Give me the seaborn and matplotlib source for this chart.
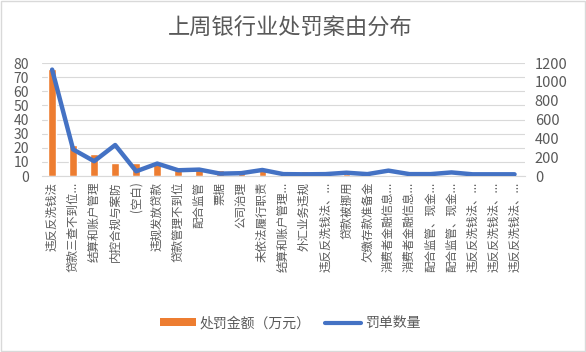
import matplotlib
matplotlib.use("Agg")
import matplotlib.pyplot as plt
import numpy as np
import pandas as pd
import seaborn as sns
from matplotlib.patches import Rectangle

# ---- data ----
CATEGORIES = [
    "违反反洗钱法", "贷款三查不到位...", "结算和账户管理", "内控合规与案防", "(空白)",
    "违规发放贷款", "贷款管理不到位", "配合监管", "票据", "公司治理",
    "未依法履行职责", "结算和账户管理...", "外汇业务违规", "违反反洗钱法、...",
    "贷款被挪用", "欠缴存款准备金", "消费者金融信息...", "消费者金融信息...",
    "配合监管、现金...", "配合监管、现金...", "违反反洗钱法、...",
    "违反反洗钱法、...", "违反反洗钱法、...",
]
FINE_AMOUNT = [76, 22, 15.5, 9.3, 9.3, 8.8, 4.5, 5.7, 4.5, 3.8,
               4.0, 3.5, 3.5, 2.0, 1.5, 1.2, 0.8, 0.6, 0.6, 1.0,
               0.5, 0.4, 0.3]
PENALTY_COUNT = [1130, 282, 157, 329, 50, 132, 61, 68, 25, 30,
                 64, 20, 18, 20, 35, 20, 57, 20, 20, 38,
                 18, 18, 18]

BAR_COLOR = "#ED7D31"
LINE_COLOR = "#4472C4"
TEXT_COLOR = "#595959"
GRID_COLOR = "#D9D9D9"

df = pd.DataFrame({
    "pos": np.arange(len(CATEGORIES)),
    "label": CATEGORIES,
    "amount": FINE_AMOUNT,
    "count": PENALTY_COUNT,
})

sns.set_style("white")
plt.rcParams["font.family"] = ["Noto Sans CJK SC", "DejaVu Sans"]

fig = plt.figure(figsize=(5.86, 3.52), dpi=100)
ax = fig.add_axes([0.071, 0.5, 0.825, 0.321])

sns.barplot(data=df, x="pos", y="amount", color=BAR_COLOR, width=0.36,
            saturation=1, ax=ax, zorder=2)
ax.set_ylim(0, 80)
ax.set_yticks(np.arange(0, 81, 10))
ax.yaxis.grid(True, color=GRID_COLOR, linewidth=0.8, zorder=0)
ax.set_axisbelow(True)
ax.set_xlim(-0.5, len(CATEGORIES) - 0.5)
ax.set_xticks(df["pos"])
ax.set_xticklabels(CATEGORIES, rotation=90, fontsize=8.3, color=TEXT_COLOR)
ax.tick_params(axis="y", labelsize=10, colors=TEXT_COLOR, length=0, pad=9)
ax.tick_params(axis="x", length=0, pad=4)
ax.set_xlabel("")
ax.set_ylabel("")
for s in ax.spines.values():
    s.set_visible(False)
ax.spines["bottom"].set_visible(True)
ax.spines["bottom"].set_color(GRID_COLOR)

ax2 = ax.twinx()
sns.lineplot(data=df, x="pos", y="count", color=LINE_COLOR, linewidth=3.2,
             ax=ax2)
ax2.set_ylim(0, 1200)
ax2.set_yticks(np.arange(0, 1201, 200))
ax2.tick_params(axis="y", labelsize=10.5, colors=TEXT_COLOR, length=0, pad=7)
ax2.set_ylabel("")
ax2.set_xlabel("")
for s in ax2.spines.values():
    s.set_visible(False)
ax2.set_xlim(-0.5, len(CATEGORIES) - 0.5)

fig.text(0.495, 0.92, "上周银行业处罚案由分布", ha="center", va="center",
         fontsize=16, color=TEXT_COLOR)

handles = [
    Rectangle((0, 0), 1, 1, facecolor=BAR_COLOR, edgecolor="none"),
    plt.Line2D([0], [0], color=LINE_COLOR, linewidth=3),
]
fig.legend(handles, ["处罚金额（万元）", "罚单数量"], loc="center",
           bbox_to_anchor=(0.495, 0.082), ncol=2, frameon=False,
           fontsize=10, labelcolor=TEXT_COLOR, handlelength=2.6,
           handleheight=0.5, columnspacing=1.0, handletextpad=0.3)

fig.patches.append(Rectangle((0.002, 0.004), 0.996, 0.992, transform=fig.transFigure,
                             fill=False, edgecolor=GRID_COLOR, linewidth=1))

fig.savefig("out.png", dpi=100)
